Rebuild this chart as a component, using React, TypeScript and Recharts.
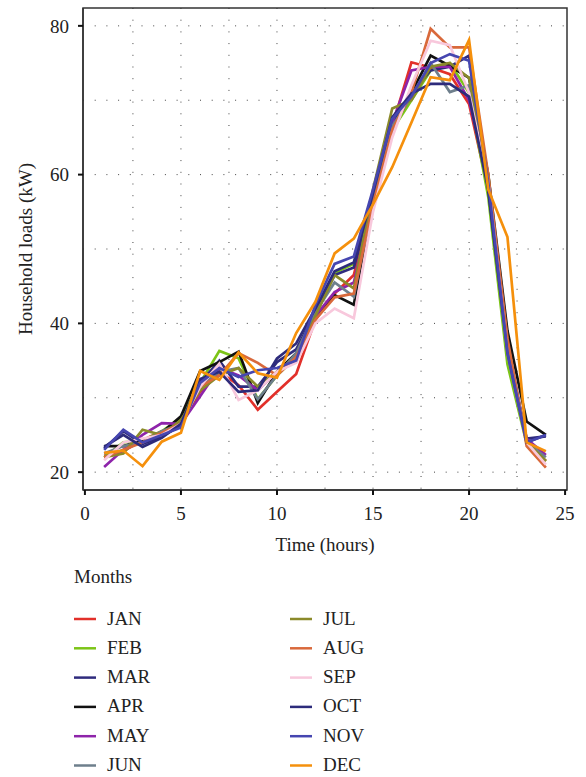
import React from 'react'
import { CartesianGrid, Line, LineChart, ReferenceArea, XAxis, YAxis } from 'recharts'

const hours = [1, 2, 3, 4, 5, 6, 7, 8, 9, 10, 11, 12, 13, 14, 15, 16, 17, 18, 19, 20, 21, 22, 23, 24]
const months = ['JAN', 'FEB', 'MAR', 'APR', 'MAY', 'JUN', 'JUL', 'AUG', 'SEP', 'OCT', 'NOV', 'DEC']
const monthColors = [
  '#e2302a', '#7cc417', '#2f2b7d', '#111111', '#8e24aa', '#6e7f8c',
  '#8b8a2a', '#d9693b', '#f8c8dc', '#2d2b7b', '#4646b0', '#f5900c',
]

const jan = [22.2, 22.8, 24.3, 25.5, 26.5, 30.8, 33.5, 31.7, 28.4, 30.8, 33.2, 40.5, 44, 46.5, 57, 66.5, 75.1, 74.4, 73.5, 69.5, 58, 37, 24, 21.5]
const feb = [22, 24, 24.2, 25.5, 27.3, 32, 36.3, 35.3, 29.8, 33, 35.5, 41, 46.8, 48, 57.5, 66, 70, 74, 75, 71, 57, 34.5, 23.8, 21.5]
const mar = [23.2, 25.5, 23.8, 24.8, 26.3, 32, 35, 31.5, 31.5, 34.8, 36.5, 41.5, 46.5, 47.5, 57, 67, 71, 74, 74.5, 76, 58, 36.5, 24.5, 24.8]
const apr = [23.5, 23.5, 24.2, 25.3, 27.5, 33.6, 34.8, 36.2, 29.3, 33.5, 36, 41, 43.8, 42.5, 56.5, 66, 71, 76, 74.6, 73, 60, 39, 26.8, 25]
const may = [20.7, 23, 25, 26.6, 26.5, 30.2, 34, 33, 31, 33.5, 35.5, 41, 44.2, 45.5, 56.5, 67, 74, 74.5, 74.5, 70, 59, 37, 24.5, 22.3]
const jun = [22.5, 23.5, 24, 25.5, 26.5, 31.5, 33.5, 34, 29.8, 33, 36, 41.5, 45.5, 43.6, 57, 66.5, 70.5, 75, 71.1, 72, 59, 37.5, 24, 22]
const jul = [22, 22.5, 25.7, 25, 27, 31, 33, 34, 31.5, 33.5, 35, 41, 46.5, 44.7, 58, 68.9, 70, 74.5, 75, 73, 60, 36.5, 24, 21.5]
const aug = [22, 23, 24, 25.3, 26.5, 31.5, 33, 36, 34.7, 33, 35.5, 40.5, 43.5, 44, 56, 66, 71, 79.6, 77.1, 77.1, 60, 38, 23.5, 20.6]
const sep = [21.6, 24, 24.5, 25, 26.5, 31.5, 34.6, 29.7, 31, 33.5, 34.7, 40, 42, 40.7, 55, 65, 72, 78, 77.4, 71, 59, 36, 24, 21]
const oct = [23.4, 25, 23.4, 24.6, 26.5, 32.5, 33.5, 30.8, 31, 35.3, 37.3, 42, 47, 48.2, 57.5, 67.7, 70.9, 72.2, 72.2, 70.5, 58, 36, 24, 25]
const nov = [23, 25.7, 24, 25, 26, 32, 34, 32.8, 33.7, 34, 35, 42.5, 48, 49, 58, 67.5, 70.5, 75, 76.2, 75.3, 59, 36, 24, 25]
const dec = [22.6, 22.9, 20.8, 24.1, 25.3, 33.6, 32.4, 36.1, 33.3, 32.7, 38.7, 42.9, 49.4, 51.4, 56, 61, 67, 73.1, 72.7, 78.1, 58, 51.6, 24, 22.8]

const seriesByMonth = [jan, feb, mar, apr, may, jun, jul, aug, sep, oct, nov, dec]

const xTicks = [0, 5, 10, 15, 20, 25]
const yTicks = [20, 40, 60, 80]
const xGrid = [2.5, 5, 7.5, 10, 12.5, 15, 17.5, 20, 22.5]
const yGrid = [20, 30, 40, 50, 60, 70, 80]

const FONT = '"Liberation Serif", "Times New Roman", serif'
const TEXT = '#222'
const textStyle = { fontFamily: FONT, fontSize: 19 }

const chartData = hours.map((h, i) => {
  const row: Record<string, number> = { hour: h }
  months.forEach((m, k) => {
    row[m] = seriesByMonth[k][i]
  })
  return row
})

function YLabel({ viewBox }: any) {
  const cy = viewBox.y + viewBox.height / 2
  return (
    <text
      x={25}
      y={cy}
      transform={`rotate(-90, 25, ${cy})`}
      textAnchor="middle"
      dominantBaseline="central"
      style={textStyle}
      fill={TEXT}
    >
      Household loads (kW)
    </text>
  )
}

function XLabel({ viewBox }: any) {
  return (
    <text x={viewBox.x + viewBox.width / 2} y={551} textAnchor="middle" style={textStyle} fill={TEXT}>
      Time (hours)
    </text>
  )
}

function MonthLegend() {
  const rowGap = 29.3
  return (
    <svg width={586} height={777} style={{ position: 'absolute', left: 0, top: 0 }}>
      <text x={74} y={583} style={textStyle} fill={TEXT}>
        Months
      </text>
      {months.map((m, k) => {
        const col = k < 6 ? 0 : 1
        const row = k % 6
        const x = col === 0 ? 74 : 290
        const ly = 619 + row * rowGap
        return (
          <g key={m}>
            <line x1={x} x2={x + 22} y1={ly} y2={ly} stroke={monthColors[k]} strokeWidth={2.5} />
            <text x={x + 33} y={ly + 5.5} style={textStyle} fill={TEXT}>
              {m}
            </text>
          </g>
        )
      })}
    </svg>
  )
}

export default function App() {
  return (
    <div style={{ position: 'absolute', left: 0, top: 0, width: 586, height: 777, background: '#fff' }}>
      <LineChart width={586} height={560} data={chartData} margin={{ top: 8, right: 19, bottom: 0, left: 0 }}>
        <CartesianGrid
          horizontalValues={yGrid}
          verticalValues={xGrid}
          stroke="#444"
          strokeDasharray="1 10.7"
        />
        <XAxis
          dataKey="hour"
          type="number"
          domain={[-0.1, 25.1]}
          ticks={xTicks}
          height={70}
          tickSize={5}
          tickMargin={12}
          axisLine={{ stroke: '#333', strokeWidth: 1.5 }}
          tickLine={{ stroke: '#111', strokeWidth: 2 }}
          tick={{ style: textStyle, fill: TEXT }}
          allowDataOverflow
          label={<XLabel />}
        />
        <YAxis
          type="number"
          domain={[17.6, 82.4]}
          ticks={yTicks}
          width={83}
          tickSize={5}
          tickMargin={9}
          axisLine={{ stroke: '#333', strokeWidth: 1.5 }}
          tickLine={{ stroke: '#111', strokeWidth: 2 }}
          tick={{ style: textStyle, fill: TEXT }}
          allowDataOverflow
          label={<YLabel />}
        />
        <ReferenceArea
          x1={-0.1}
          x2={25.1}
          y1={17.6}
          y2={82.4}
          fill="none"
          stroke="#333"
          strokeWidth={1.5}
          ifOverflow="visible"
        />
        {months.map((m, k) => (
          <Line
            key={m}
            dataKey={m}
            stroke={monthColors[k]}
            strokeWidth={2.7}
            dot={false}
            activeDot={false}
            type="linear"
            isAnimationActive={false}
          />
        ))}
      </LineChart>
      <MonthLegend />
    </div>
  )
}
